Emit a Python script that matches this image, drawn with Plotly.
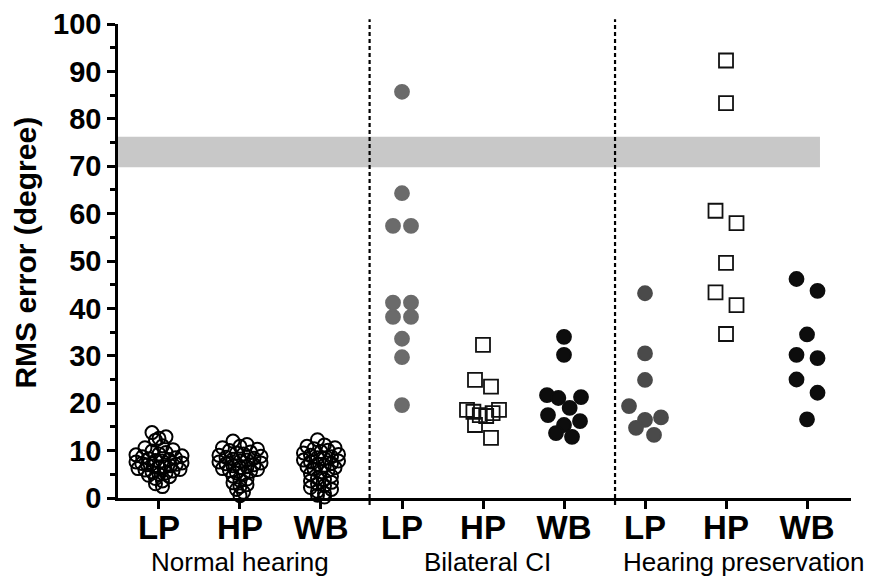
import plotly.graph_objects as go

# ---------------- data ----------------
categories = ["LP", "HP", "WB", "LP", "HP", "WB", "LP", "HP", "WB"]
group_labels = ["Normal hearing", "Bilateral CI", "Hearing preservation"]
y_title = "RMS error (degree)"

nh_lp = [13.8, 12.9, 12.6, 12.2, 11.0, 10.6, 10.2, 9.9, 9.6, 9.3, 9.1, 8.9, 8.7, 8.5,
         8.3, 8.1, 7.9, 7.8, 7.6, 7.4, 7.3, 7.1, 7.0, 6.8, 6.7, 6.5, 6.4, 6.2, 6.0,
         5.9, 5.7, 5.5, 5.3, 5.0, 4.8, 4.5, 4.1, 3.6, 3.0, 2.4]
nh_hp = [12.0, 11.3, 10.9, 10.6, 10.3, 10.0, 9.7, 9.5, 9.3, 9.0, 8.8, 8.6, 8.4, 8.2,
         8.0, 7.8, 7.6, 7.4, 7.2, 7.0, 6.8, 6.6, 6.4, 6.2, 6.0, 5.8, 5.6, 5.3, 5.0,
         4.6, 4.0, 3.7, 3.2, 2.8, 2.4, 1.8, 1.2, 0.5]
nh_wb = [12.3, 11.2, 10.9, 10.6, 10.4, 10.1, 9.8, 9.5, 9.2, 9.0, 8.7, 8.5, 8.3, 8.0,
         7.8, 7.6, 7.3, 7.1, 6.9, 6.6, 6.4, 6.1, 5.8, 5.5, 5.1, 4.6, 4.2, 3.9, 3.6,
         3.3, 3.0, 2.6, 2.2, 1.8, 1.4, 1.0, 0.6, 0.2]
bci_lp = [85.7, 64.3, 57.4, 57.4, 41.2, 41.2, 38.2, 38.2, 33.6, 29.7, 19.6]
bci_hp = [32.3, 24.9, 23.5, 18.6, 18.6, 18.2, 17.9, 17.5, 17.3, 15.4, 12.7]
bci_wb = [34.0, 30.2, 21.7, 21.3, 21.1, 19.0, 17.5, 16.2, 15.4, 13.7, 12.9]
hp_lp = [43.2, 30.5, 24.9, 19.4, 17.0, 16.5, 14.8, 13.3]
hp_hp = [92.3, 83.3, 60.6, 58.0, 49.6, 43.4, 40.7, 34.6]
hp_wb = [46.2, 43.7, 34.5, 30.2, 29.5, 25.0, 22.2, 16.6]
chance_band = [69.8, 76.2]

# ---------------- layout helpers ----------------
PX_X = 81.0   # pixels per category unit


def scatter_offsets(values, row_h, spacing, max_w):
    """Prism-like column scatter: values within row_h of each other share a row
    and are spread symmetrically; returns x offsets in category units."""
    order = sorted(range(len(values)), key=lambda i: -values[i])
    offs = [0.0] * len(values)
    rows, cur = [], []
    for i in order:
        if cur and values[cur[0]] - values[i] >= row_h:
            rows.append(cur)
            cur = []
        cur.append(i)
    if cur:
        rows.append(cur)
    for row in rows:
        n = len(row)
        if n == 1:
            continue
        sp = min(spacing, max_w / (n - 1))
        pos = [(k - (n - 1) / 2) * sp for k in range(n)]
        seq = []
        lo, hi = 0, n - 1
        while lo <= hi:
            seq.append(lo)
            if hi != lo:
                seq.append(hi)
            lo += 1
            hi -= 1
        for j, idx in enumerate(row):
            offs[idx] = pos[seq[j]] / PX_X
    return offs


series = [
    (1, nh_lp, "circle-open", "black", 13, 1.3, 7, 46, 2.0),
    (2, nh_hp, "circle-open", "black", 13, 1.3, 7, 46, 2.0),
    (3, nh_wb, "circle-open", "black", 13, 1.3, 7, 46, 2.0),
    (4, bci_lp, "circle", "#6b6b6b", 14, 2.9, 18, 32, 1.8),
    (5, bci_hp, "square-open", "#111111", 14, 2.9, 16, 32, 1.8),
    (6, bci_wb, "circle", "#0d0d0d", 14, 2.9, 16, 34, 1.8),
    (7, hp_lp, "circle", "#4a4a4a", 14, 2.9, 18, 32, 1.8),
    (8, hp_hp, "square-open", "#111111", 14, 2.9, 21, 32, 1.8),
    (9, hp_wb, "circle", "#0d0d0d", 14, 2.9, 21, 32, 1.8),
]

fig = go.Figure()
for pos, vals, sym, col, size, rh, sp, mw, lw in series:
    offs = scatter_offsets(vals, rh, sp, mw)
    fig.add_trace(go.Scatter(
        x=[pos + o for o in offs], y=vals, mode="markers",
        marker=dict(symbol=sym, size=size, color=col,
                    line=dict(color=col, width=lw)),
        cliponaxis=False, showlegend=False, hoverinfo="y"))

# gray band
fig.add_shape(type="rect", xref="x", yref="y", x0=0.494, x1=9.16,
              y0=chance_band[0], y1=chance_band[1],
              fillcolor="#c8c8c8", line=dict(width=0), layer="below")
# dashed separators
for xs in [3.6, 6.63]:
    fig.add_shape(type="line", xref="x", yref="paper", x0=xs, x1=xs, y0=-0.015, y1=1.01,
                  line=dict(color="black", width=2.2, dash="4px,3px"), layer="above")

FONT = "Liberation Sans, Arial, sans-serif"
for xg, lab in zip([2.0, 5.06, 8.21], group_labels):
    fig.add_annotation(x=xg, xref="x", y=-0.135, yref="paper", text=lab,
                       showarrow=False, yanchor="middle",
                       font=dict(family=FONT, size=26, color="black"))

# y-axis title
fig.add_annotation(x=-0.126, xref="paper", y=0.517, yref="paper", text=y_title,
                   textangle=-90, showarrow=False, xanchor="center", yanchor="middle",
                   font=dict(family=FONT, size=30, weight="bold", color="black"))

fig.update_layout(
    width=875, height=576,
    margin=dict(l=110, r=32, t=16, b=86, autoexpand=False),
    plot_bgcolor="white", paper_bgcolor="white",
    font=dict(family=FONT, color="black"),
    xaxis=dict(range=[0.494, 9.543], tickvals=list(range(1, 10)), ticktext=categories,
               automargin=False, ticklabelstandoff=-9,
               showgrid=False, zeroline=False, showline=True, linecolor="black",
               linewidth=2.5, ticks="outside", ticklen=8, tickwidth=2.5, tickcolor="black",
               tickfont=dict(family=FONT, size=33, weight="bold", color="black")),
    yaxis=dict(range=[0, 100], dtick=10, showgrid=False, zeroline=False, showline=True,
               automargin=False,
               linecolor="black", linewidth=2.5, ticks="outside", ticklen=8, tickwidth=2.5,
               tickcolor="black",
               minor=dict(dtick=5, ticks="outside", ticklen=5, tickwidth=2.5, tickcolor="black"),
               tickfont=dict(family=FONT, size=29, weight="bold", color="black")),
)

fig.write_html("out.html")
